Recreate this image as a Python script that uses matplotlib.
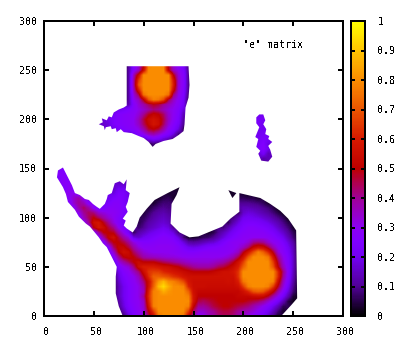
import numpy as np
import matplotlib
matplotlib.use('Agg')
import matplotlib.pyplot as plt
from matplotlib.colors import LinearSegmentedColormap
from matplotlib.patches import PathPatch
from matplotlib.path import Path
from matplotlib.transforms import ScaledTranslation

plt.rcParams['font.family'] = ['DejaVu Sans Mono']
plt.rcParams['text.antialiased'] = False

x_ticks = [0, 50, 100, 150, 200, 250, 300]
y_ticks = [0, 50, 100, 150, 200, 250, 300]
cb_ticks = [0, 0.1, 0.2, 0.3, 0.4, 0.5, 0.6, 0.7, 0.8, 0.9, 1]
cb_labels = ['0', '0.1', '0.2', '0.3', '0.4', '0.5', '0.6', '0.7', '0.8', '0.9', '1']
title = '"e" matrix'

# palette
pal_pos = [0, .1, .2, .25, .3, .4, .45, .5, .6, .7, .8, .9, 1]
pal_rgb = ['#000000', '#510096', '#7200f2', '#7f00ff', '#8c00f2', '#a00096', '#af004f',
           '#be0000', '#d71900', '#eb5500', '#fa8c00', '#ffc300', '#ffff00']

# matrix, 5 unit cells, percent
# (y, first x, values)
upper_blob = [
    (255, 80, [2,10,25,33,50,78,80,80,78,48,33,28,22,8,2]),
    (250, 80, [2,12,27,35,55,80,80,80,80,50,35,30,25,10,2]),
    (245, 80, [2,12,36,55,80,80,80,80,80,80,50,33,27,10,2]),
    (240, 80, [2,12,38,65,80,80,80,80,80,80,58,34,27,10,2]),
    (235, 80, [2,12,38,70,80,80,80,80,80,80,60,34,27,10,2]),
    (230, 80, [2,12,36,60,80,80,80,80,80,80,55,33,26,10,2]),
    (225, 80, [2,12,32,45,75,80,80,80,80,75,42,31,25,8,2]),
    (220, 80, [2,12,30,35,50,70,78,76,68,46,35,29,23,6,2]),
    (215, 85, [13,27,33,38,44,48,46,40,36,32,28,22,6]),
    (210, 70, [18,20,22,25,28,31,34,38,42,40,36,32,30,26,18]),
    (205, 65, [18,22,26,27,28,29,33,40,48,52,50,44,34,30,25,14]),
    (200, 60, [18,20,24,26,27,28,30,36,46,54,57,54,46,35,29,24,12]),
    (195, 60, [16,18,24,26,27,28,30,35,44,52,58,55,44,33,27,22,10]),
    (190, 70, [18,24,25,27,28,31,38,47,50,46,38,29,25,18,6]),
    (185, 85, [12,20,26,30,36,38,34,29,25,18,8]),
    (180, 100, [14,20,24,22,17,14,8]),
    (175, 105, [5,8,5]),
]
island = [
    (205, 215, [20,20]),
    (200, 215, [22,22]),
    (195, 215, [24,20]),
    (190, 215, [20,20]),
    (185, 215, [20,22]),
    (180, 215, [22,24]),
    (175, 215, [22,26,18]),
    (170, 215, [24,27,20]),
    (165, 215, [16,22,14]),
    (160, 220, [12,14]),
]
left_arms = [
    (150, 15, [24,24]),
    (145, 15, [26,26]),
    (140, 15, [24,28,24]),
    (135, 20, [28,28]),
    (135, 75, [16,16,14]),
    (130, 20, [24,30,24]),
    (130, 70, [16,20,20,16]),
    (125, 25, [30,30,24]),
    (125, 70, [18,24,24,18]),
    (120, 25, [28,34,38,28]),
    (120, 65, [20,24,26,24,20]),
    (115, 25, [24,34,40,36,26]),
    (115, 60, [20,24,27,27,24,20]),
    (110, 30, [28,38,44,38,28,24,24,28,28,27,25,20]),
    (105, 35, [30,40,44,42,34,32,30,30,28,24]),
    (100, 35, [26,36,44,50,44,38,33,30,26,22]),
    (95, 40, [28,40,56,58,48,40,32,26,22]),
    (90, 45, [28,50,58,54,46,40,30,24,20]),
]
fin = [
    (130, 135, [3]),
    (125, 125, [3,4,3]),
    (120, 115, [3,5,6,3]),
    (115, 110, [3,6,8,8]),
    (110, 105, [4,7,9,10,9]),
    (105, 100, [4,7,10,12,13,11]),
    (100, 100, [6,9,12,14,15,13]),
    (95, 95, [5,8,12,14,16,17,15,6]),
    (90, 95, [7,10,14,16,18,20,18,10]),
]
right_top = [
    (125, 190, [3]),
    (125, 200, [3,2]),
    (120, 200, [6,5,5,3]),
    (115, 200, [10,10,9,8,6,3]),
    (110, 200, [14,14,13,12,10,8,5,2]),
    (105, 195, [6,16,18,17,15,13,11,8,5,2]),
    (100, 190, [8,14,20,21,20,19,17,15,12,9,6,2]),
    (95, 185, [6,13,18,23,24,24,23,21,19,16,13,9,5]),
    (90, 180, [8,13,18,22,25,27,27,26,25,23,20,16,12,8,3]),
]
body = [
    (85, 50, [26,40,50,50,48,38,30,22,6,12,15,18,20,22,24,22,18,8]),
    (85, 165, [3,5,10,14,18,22,25,27,28,28,28,28,26,24,20,16,11,6,2]),
    (80, 55, [26,40,52,56,46,38,32,18,16,20,22,24,26,27,26,24,18,8,3,3,4,6,7,10,14,18,22,25,27,29,29,30,30,30,29,27,24,20,14,8,3]),
    (75, 60, [26,42,50,50,46,40,32,28,26,26,27,28,28,28,27,24,18,12,11,12,14,16,17,20,24,27,29,30,30,33,40,42,40,34,30,28,24,18,12,3]),
    (70, 65, [26,44,52,52,46,38,32,29,29,29,30,30,30,29,27,24,20,19,20,22,24,25,26,27,28,29,31,35,42,52,56,54,46,36,30,27,21,14,3]),
    (65, 65, [22,34,50,56,54,44,38,33,31,30,30,30,30,29,28,27,26,26,27,28,28,28,28,28,29,31,35,48,58,68,78,72,62,48,33,28,23,15,3]),
    (60, 70, [26,40,50,52,50,44,38,36,35,34,33,32,32,31,30,30,30,30,30,30,30,30,31,33,37,45,57,70,80,80,80,76,58,40,31,25,16,3]),
    (55, 70, [18,32,38,44,50,54,50,50,50,47,44,42,40,38,36,34,33,33,33,33,34,36,38,42,48,56,66,80,80,80,80,80,66,46,33,26,16,3]),
    (50, 65, [2,10,25,30,33,42,55,60,60,60,58,56,55,52,50,46,43,40,38,38,38,40,44,46,50,54,60,72,80,80,80,80,80,70,50,36,27,16,3]),
    (45, 65, [2,8,20,26,29,35,42,55,64,66,66,62,60,58,56,54,52,50,50,50,50,52,54,56,56,58,64,80,80,80,80,80,80,80,62,42,28,15,3]),
    (40, 65, [2,6,18,24,27,30,36,48,62,72,72,70,68,64,62,58,56,56,56,56,56,56,56,56,56,56,64,80,80,80,80,80,80,80,62,40,27,14,3]),
    (35, 65, [2,4,16,22,26,29,33,42,55,70,82,88,80,78,74,68,58,55,55,55,55,55,55,55,56,55,60,76,80,80,80,80,80,78,55,36,25,12,3]),
    (30, 65, [2,4,14,20,25,28,31,38,56,72,88,94,86,80,80,78,62,55,55,55,54,54,54,54,54,54,56,66,78,80,80,80,78,66,48,33,22,10,3]),
    (25, 65, [2,5,14,20,25,28,31,36,60,78,80,86,82,80,80,80,72,56,52,52,52,52,52,52,52,52,52,56,62,70,72,70,62,52,38,28,18,8,3]),
    (20, 65, [2,6,14,20,25,28,31,40,62,78,80,80,80,80,80,80,78,58,50,50,50,50,50,50,50,50,52,52,52,54,55,54,48,38,30,22,13,4,2]),
    (15, 65, [2,6,12,19,25,28,30,35,60,78,80,80,80,80,80,80,80,58,46,44,46,48,50,50,50,50,50,50,48,46,44,40,34,28,22,14,5,2]),
    (10, 70, [5,10,18,24,27,30,34,56,78,80,80,80,80,80,80,78,52,40,40,42,46,48,50,50,48,46,44,42,38,34,30,26,20,14,6]),
    (5, 75, [6,14,22,26,29,33,50,66,80,80,80,80,80,80,66,44,34,34,38,40,44,46,46,44,40,38,36,33,29,26,21,15,8,3]),
    (0, 75, [4,8,18,24,28,32,44,56,76,80,80,80,80,76,54,36,28,30,35,38,42,44,44,42,38,34,31,28,26,22,16,10,4]),
]

# outlines of the filled parts
outline_upper = [(83,254),(145,254),(146,235),(145,222),(142,212),(141,195),(140,188),(135,184),
                 (129,180),(120,178),(112,175),(109,172),(105,177),(100,181),(95,183),(88,186),
                 (80,187),(77,190),(73,187),(72,191),(68,190),(67,193),(62,192),(61,189),(60,193),
                 (55,195),(59,197),(58,201),(63,199),(65,203),(68,202),(70,207),(75,210),(80,212),(83,214)]
outline_island = [(213,202),(216,205),(220,205),(222,199),(220,195),(223,190),(222,185),(226,183),
                  (225,180),(229,177),(225,173),(227,169),(229,162),(225,157),(218,158),(215,165),
                  (217,168),(213,172),(215,180),(212,182),(216,192),(213,196)]
outline_speck = [(185,128),(193,125),(189,120)]
outline_main = [(14,148),(19,151),(24,141),(26,137),(28,133),(31,125),(36,123),(41,119),(45,118),(49,114),
                (53,111),(56,109),(61,114),(63,119),(64,123),(68,125),(71,135),(76,137),(80,134),(83,139),
                (82,128),(86,125),(84,116),(82,111),(84,106),(79,99),(82,97),(80,92),(83,89),(89,85),
                (93,91),(96,100),(103,109),(111,118),(124,125),(136,131),(133,123),(128,114),
                (127,94),(136,85),(146,80),(155,81),(167,86),(179,91),(187,99),(196,106),(196,125),
                (217,120),(227,114),(237,107),(245,99),(253,87),(254,18),(248,11),(238,0),(79,0),
                (75,10),(72,23),(72,40),(73,50),(69,58),(63,70),(59,74),(55,80),(46,91),(42,94),(35,101),
                (31,108),(24,116),(22,124),(19,131),(13,141)]

grid = np.full((61, 61), np.nan)
for part in [upper_blob, island, left_arms, fin, right_top, body]:
    for y, x0, vals in part:
        for k, v in enumerate(vals):
            grid[y // 5, x0 // 5 + k] = v / 100.0

# cells just outside the read area take their neighbours, the outlines cut them off anyway
for n in range(3):
    old = grid.copy()
    for j, i in zip(*np.where(np.isnan(old))):
        near = old[max(j - 1, 0):j + 2, max(i - 1, 0):i + 2]
        if np.any(~np.isnan(near)):
            grid[j, i] = np.nanmean(near)
grid = np.nan_to_num(grid)

cmap = LinearSegmentedColormap.from_list('e_pal', list(zip(pal_pos, pal_rgb)), N=256)

fig = plt.figure(figsize=(4.2, 3.56), dpi=100)
fig.patch.set_facecolor('white')
ax = fig.add_axes([44 / 420, 1 - 316 / 356, 299 / 420, 295 / 356])
im = ax.imshow(grid, origin='lower', extent=[-2.5, 302.5, -2.5, 302.5],
               cmap=cmap, vmin=0, vmax=1, interpolation='bilinear',
               interpolation_stage='data', aspect='auto')
ax.set_xlim(0, 300)
ax.set_ylim(0, 300)

verts = []
codes = []
for o in [outline_upper, outline_island, outline_speck, outline_main]:
    verts += o + [o[0]]
    codes += [Path.MOVETO] + [Path.LINETO] * (len(o) - 1) + [Path.CLOSEPOLY]
clip = PathPatch(Path(verts, codes), transform=ax.transData, fc='none', ec='none')
ax.add_patch(clip)
im.set_clip_path(clip)

ax.set_xticks(x_ticks)
ax.set_yticks(y_ticks)
ax.tick_params(direction='in', top=True, right=True, length=3.6, width=1.44, labelsize=7.2)
ax.tick_params(axis='x', pad=8)
ax.tick_params(axis='y', pad=5)
for s in ax.spines.values():
    s.set_linewidth(1.44)

# gnuplot puts the x labels 2px right of their ticks
shift = ScaledTranslation(2 / 100, 0, fig.dpi_scale_trans)
for lab in ax.get_xticklabels():
    lab.set_transform(lab.get_transform() + shift)

fig.text(243 / 420, 1 - 45.5 / 356, title, fontsize=7.2, ha='left', va='center')

cax = fig.add_axes([351 / 420, 1 - 316 / 356, 14 / 420, 295 / 356])
cb = fig.colorbar(im, cax=cax)
cb.set_ticks(cb_ticks)
cb.set_ticklabels(cb_labels)
cax.tick_params(direction='in', left=True, right=True, length=3.0, width=1.44, labelsize=7.2, pad=9)
cb.outline.set_linewidth(1.44)

fig.savefig('out.png', dpi=100)
